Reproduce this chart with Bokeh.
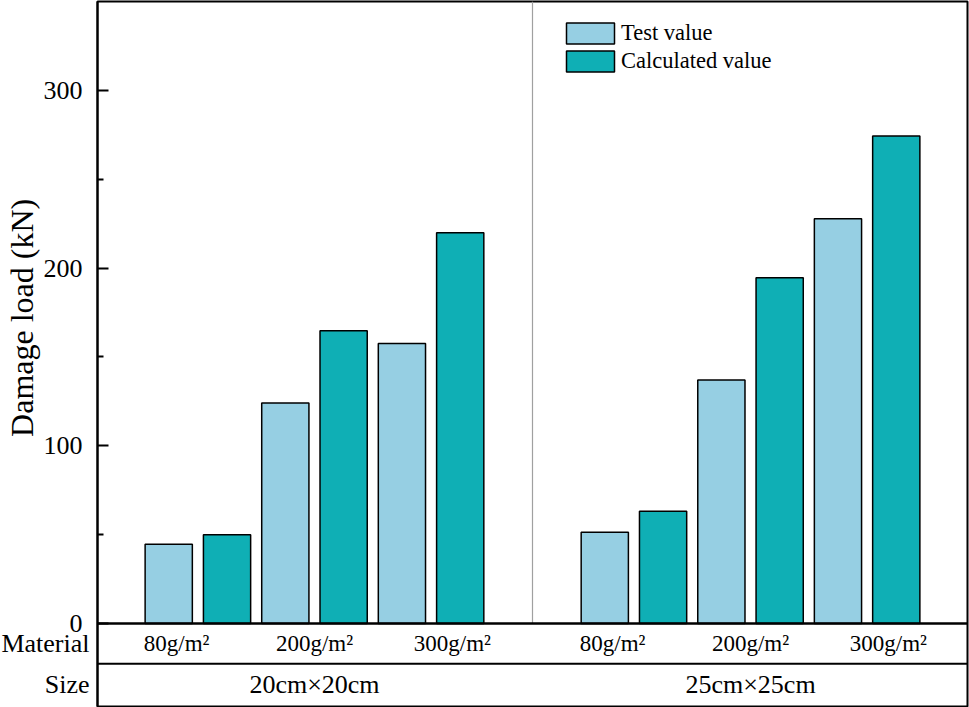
from bokeh.plotting import figure
from bokeh.models import (ColumnDataSource, FactorRange, Range1d, FixedTicker,
                          Span, Legend, LegendItem)
from bokeh.transform import dodge
from bokeh.core.properties import value
from bokeh.embed import file_html
from bokeh.resources import INLINE

sizes = ["20cm×20cm", "25cm×25cm"]
materials = ["80g/m²", "200g/m²", "300g/m²"]
series = ["Test value", "Calculated value"]
test_20 = [44.6, 124.1, 157.5]
calc_20 = [50.0, 164.8, 219.9]
test_25 = [51.3, 137.0, 227.8]
calc_25 = [63.1, 194.6, 274.3]
y_ticks = [0, 100, 200, 300]
y_minor = [50, 150, 250]
row_titles = ["Material", "Size"]
y_title = "Damage load (kN)"

FONT = "Liberation Serif"
C_TEST = "#96CFE3"
C_CALC = "#0FAFB5"

factors = [(s, m, k) for s in sizes for m in materials for k in series]
x_range = FactorRange(*factors, factor_padding=0, subgroup_padding=0,
                      group_padding=1.48, range_padding=0.722,
                      range_padding_units="absolute")

p = figure(width=969, height=707, x_range=x_range, y_range=Range1d(-46.7, 350),
           output_backend="svg", toolbar_location=None, x_axis_location=None,
           min_border_left=97, min_border_right=2, min_border_top=1,
           min_border_bottom=1)
p.background_fill_color = "white"
p.border_fill_color = "white"
p.outline_line_color = "black"
p.outline_line_width = 2
p.xgrid.visible = False
p.ygrid.visible = False

test_src = ColumnDataSource(dict(
    x=[(s, m, series[0]) for s in sizes for m in materials],
    top=test_20 + test_25))
calc_src = ColumnDataSource(dict(
    x=[(s, m, series[1]) for s in sizes for m in materials],
    top=calc_20 + calc_25))

r_test = p.vbar(x="x", top="top", width=0.81, bottom=0, source=test_src,
                fill_color=C_TEST, line_color="black", line_width=1.5)
r_calc = p.vbar(x="x", top="top", width=0.81, bottom=0, source=calc_src,
                fill_color=C_CALC, line_color="black", line_width=1.5)

# separator between size groups
sep_src = ColumnDataSource(dict(x=[(sizes[1], materials[0], series[0])]))
p.segment(x0=dodge("x", -1.24, range=x_range), y0=0,
          x1=dodge("x", -1.24, range=x_range), y1=350,
          source=sep_src, line_color="#A0A0A0", line_width=1.2)

# table lines
p.add_layout(Span(location=0, dimension="width", line_color="black", line_width=2.6))
p.add_layout(Span(location=-22.6, dimension="width", line_color="black", line_width=2))

# table texts: material cells are spread a little wider than the bar pairs
for j, m in enumerate(materials):
    src = ColumnDataSource(dict(x=[(s, m) for s in sizes], t=[m] * len(sizes)))
    p.text(x=dodge("x", (j - 1) * 0.365, range=x_range), y=-11.3, text="t",
           source=src, text_font=value(FONT), text_font_size="23px",
           text_align="center", text_baseline="middle", text_color="black")
size_src = ColumnDataSource(dict(x=sizes, t=sizes))
p.text(x="x", y=-34.6, text="t", source=size_src, text_font=value(FONT),
       text_font_size="26px", text_align="center", text_baseline="middle",
       text_color="black")

# row titles left of the frame (unclipped overlay level)
first = factors[0]
rt_src = ColumnDataSource(dict(x=[first, first], y=[-11.3, -34.6], t=row_titles))
p.text(x=dodge("x", -1.36, range=x_range), y="y", text="t", source=rt_src,
       text_font=value(FONT), text_font_size="26px", text_align="right",
       text_baseline="middle", text_color="black", level="overlay")
yt_src = ColumnDataSource(dict(x=[first], y=[172], t=[y_title]))
p.text(x=dodge("x", -2.52, range=x_range), y="y", text="t", source=yt_src,
       angle=1.5707963, text_font=value(FONT), text_font_size="32px",
       text_align="center", text_baseline="middle", text_color="black",
       level="overlay")

# y axis
ax = p.yaxis[0]
ax.ticker = FixedTicker(ticks=y_ticks, minor_ticks=y_minor)
ax.axis_line_color = "black"
ax.axis_line_width = 2
ax.major_tick_in = 11
ax.major_tick_out = 0
ax.minor_tick_in = 6
ax.minor_tick_out = 0
ax.major_tick_line_width = 2
ax.minor_tick_line_width = 2
ax.major_tick_line_color = "black"
ax.minor_tick_line_color = "black"
ax.major_label_text_font = FONT
ax.major_label_text_font_size = "26px"
ax.major_label_text_color = "black"
ax.major_label_standoff = 15

legend = Legend(items=[LegendItem(label=series[0], renderers=[r_test]),
                       LegendItem(label=series[1], renderers=[r_calc])],
                location=(463, 632), padding=0, margin=0, spacing=2,
                glyph_width=60, glyph_height=26, label_standoff=1,
                label_text_font=FONT, label_text_font_size="22.5px",
                label_text_color="black", border_line_color=None,
                background_fill_alpha=0)
p.add_layout(legend)

open("out.html", "w").write(file_html(p, INLINE))
